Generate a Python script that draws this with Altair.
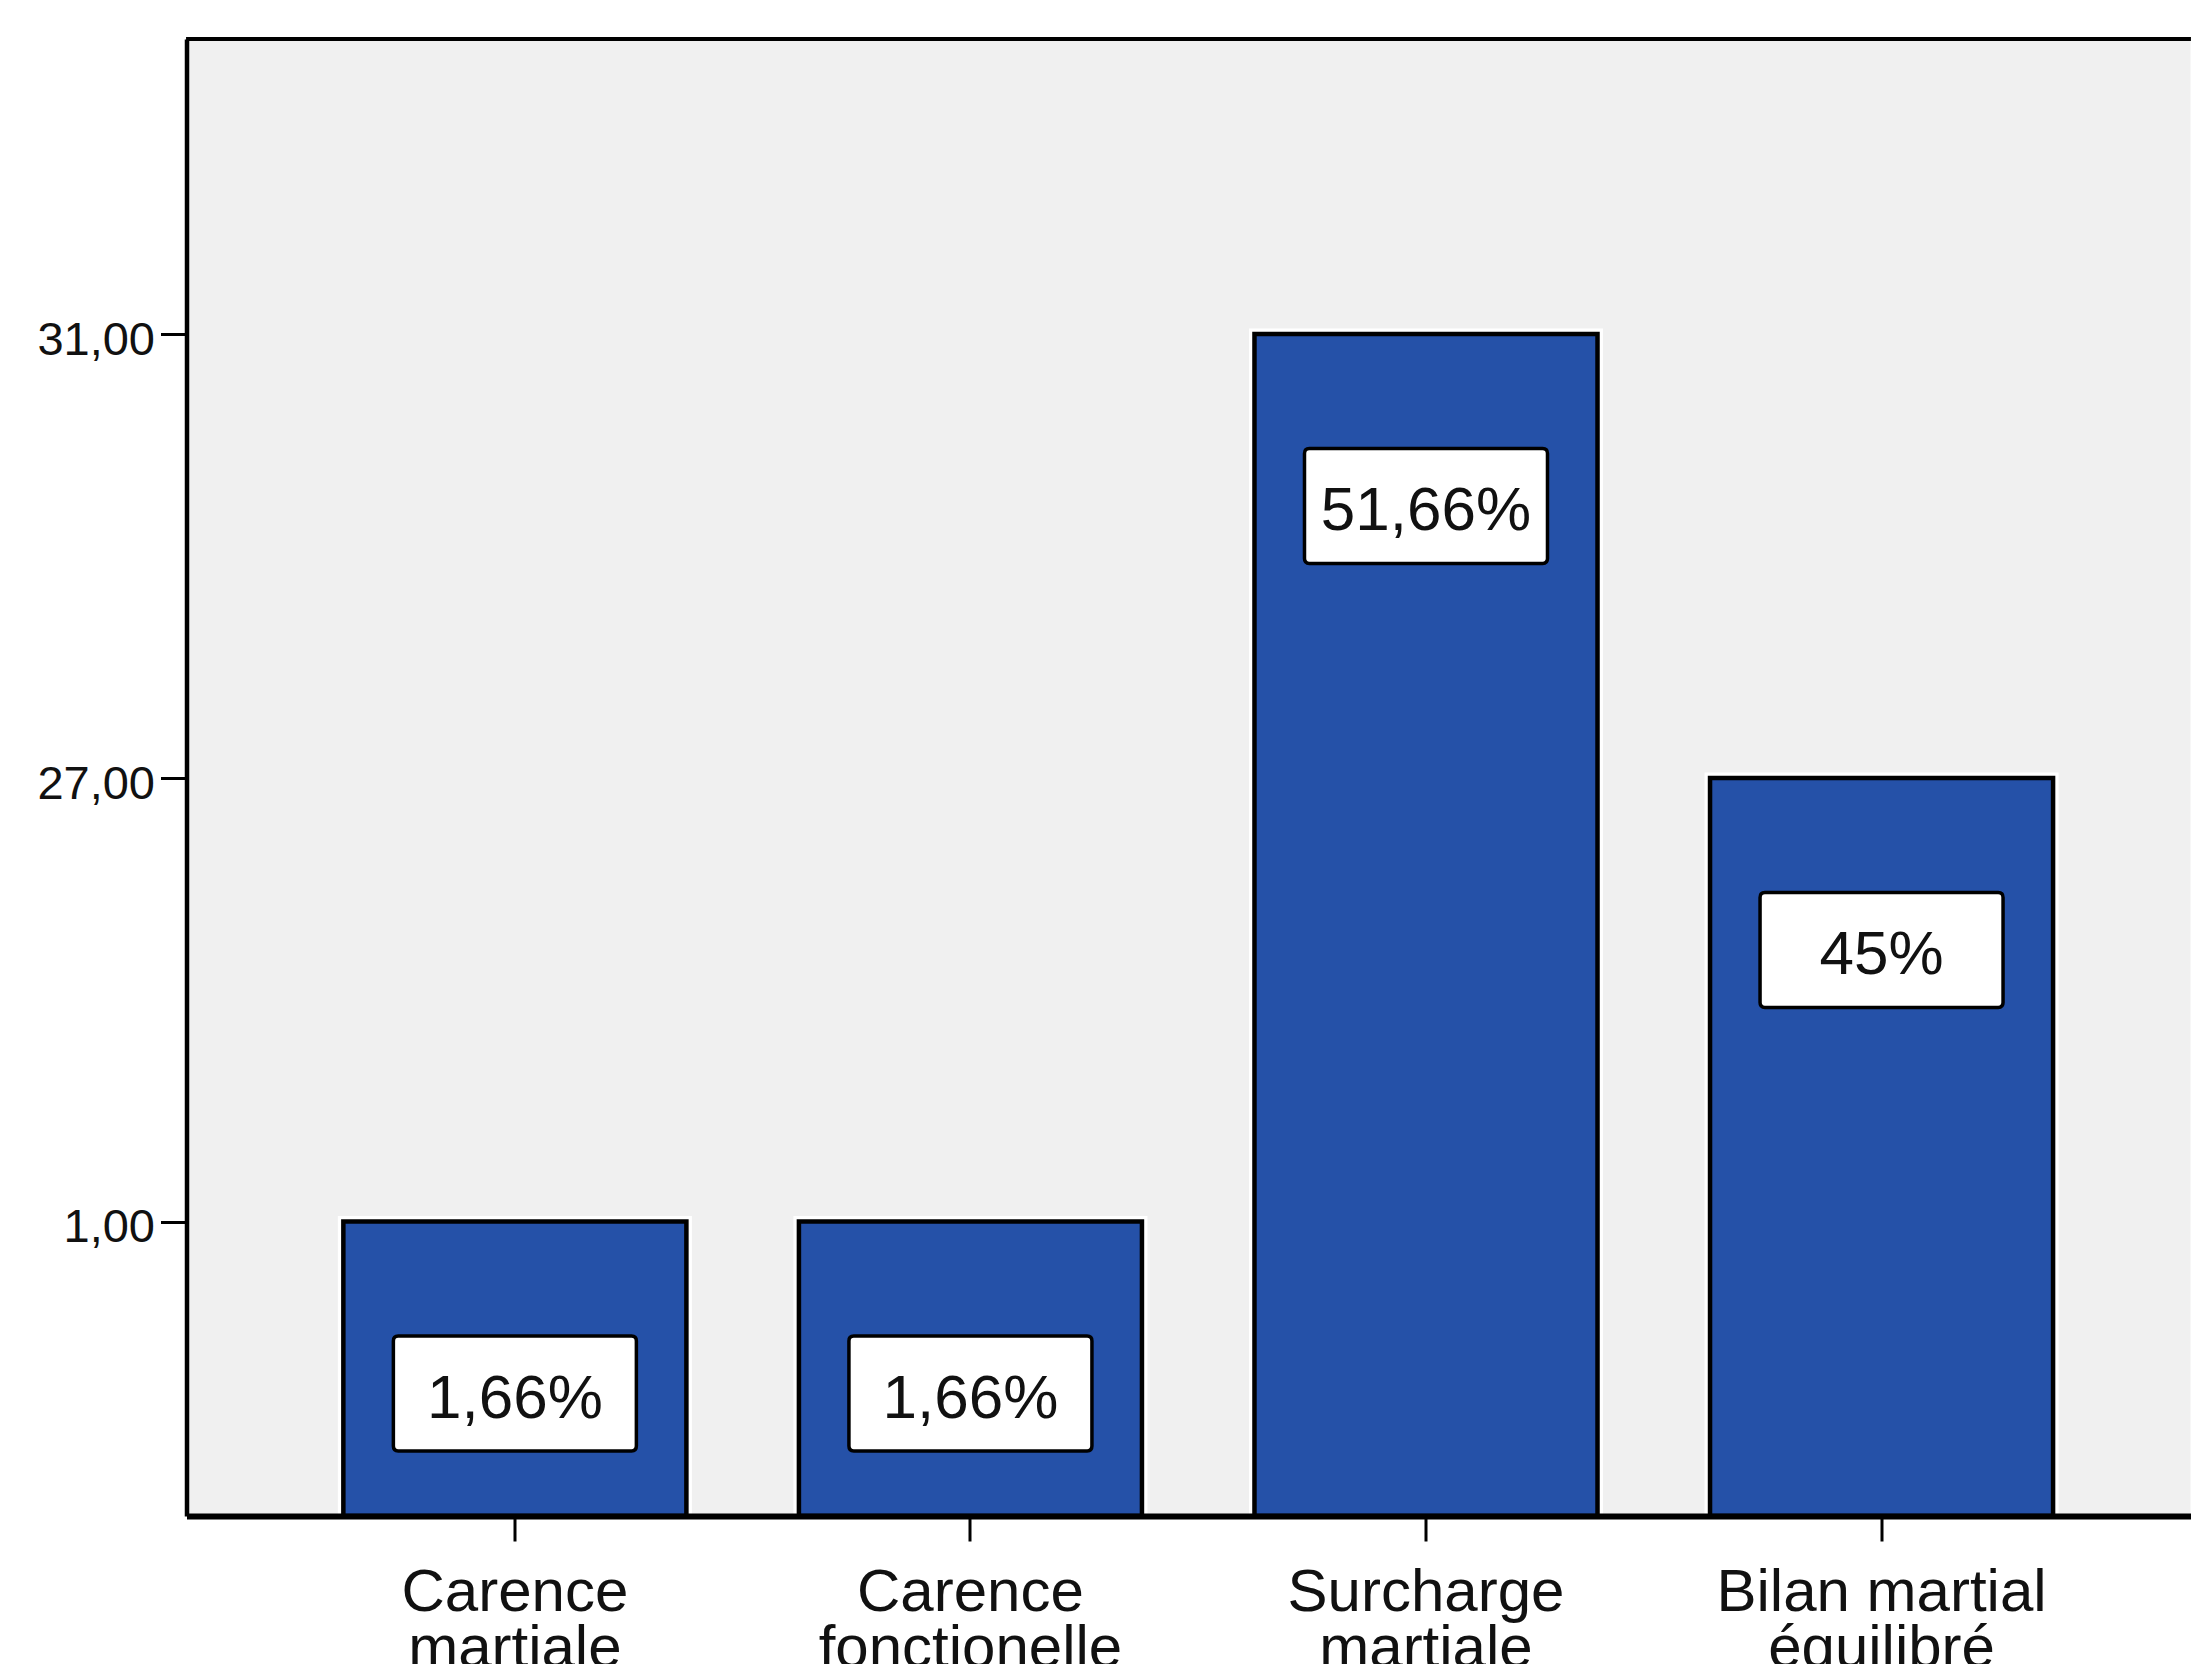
import altair as alt
import pandas as pd

categories = ["Carence martiale", "Carence fonctionelle", "Surcharge martiale", "Bilan martial équilibré"]
counts = [1, 1, 31, 27]
pct_labels = ["1,66%", "1,66%", "51,66%", "45%"]
y_ticks = [1, 27, 31]

df = pd.DataFrame({"cat": categories, "count": counts, "pct": pct_labels})

W, H = 2004, 1477
FONT = "Liberation Sans"
BLUE = "#2551A8"

# SPSS-like ordinal value axis: piecewise linear scale through the tick values
y_scale = alt.Scale(domain=[0, 1, 27, 31, 34], range=[H, H - 294.5, H - 738, H - 1182, 0], nice=False, zero=False)
x_scale = alt.Scale(paddingInner=0.247, paddingOuter=0.323, align=0.533)

x_enc = alt.X(
    "cat:N", sort=categories, scale=x_scale,
    axis=alt.Axis(
        title=None, labelAngle=0, labelFont=FONT, labelFontSize=60, labelColor="#111",
        labelLineHeight=56, labelPadding=22, labelBaseline="top", labelLimit=0,
        labelExpr="[substring(datum.label, 0, lastindexof(datum.label, ' ')), substring(datum.label, lastindexof(datum.label, ' ') + 1)]",
        tickSize=25, tickWidth=3, tickColor="black", domainColor="black", domainWidth=6, zindex=1,
    ),
)
y_enc = alt.Y(
    "count:Q", scale=y_scale,
    axis=alt.Axis(
        title=None, values=y_ticks, grid=False, labelFont=FONT, labelFontSize=47, labelColor="#111",
        labelPadding=6, labelOffset=6, labelExpr="replace(format(datum.value, '.2f'), '.', ',')",
        tickSize=26, tickWidth=3, tickColor="black", domainColor="black", domainWidth=4.5, zindex=1,
    ),
)

base = alt.Chart(df).encode(x=x_enc, y=y_enc)

halo = base.mark_bar(fill=BLUE, stroke="white", strokeWidth=11, width={"band": 1})
bars = base.mark_bar(fill=BLUE, stroke="black", strokeWidth=4.5, width={"band": 1})

box_path = ("M-0.96,-0.473 L0.96,-0.473 Q1,-0.473 1,-0.433 L1,0.433 Q1,0.473 0.96,0.473 "
            "L-0.96,0.473 Q-1,0.473 -1,0.433 L-1,-0.433 Q-1,-0.473 -0.96,-0.473 Z")
boxes = base.mark_point(shape=box_path, size=243 ** 2, filled=False, fill="white", fillOpacity=1,
                        stroke="black", strokeWidth=3.5, opacity=1, yOffset=172)
texts = base.mark_text(font=FONT, fontSize=62, color="#111", baseline="middle", align="center",
                       yOffset=177).encode(text="pct:N")

top_border = alt.Chart(df).mark_rule(color="black", strokeWidth=4).encode(
    x=alt.value(0), x2=alt.value(W), y=alt.value(0)
)

chart = alt.layer(halo, bars, boxes, texts, top_border).properties(
    width=W, height=H,
    padding={"left": 178.5, "top": 31, "right": 0, "bottom": 148},
    autosize=alt.AutoSizeParams(type="none"),
    background="white",
).configure_view(fill="#F0F0F0", stroke=None)

chart.save("out.html", embed_options={"renderer": "svg", "actions": False})
